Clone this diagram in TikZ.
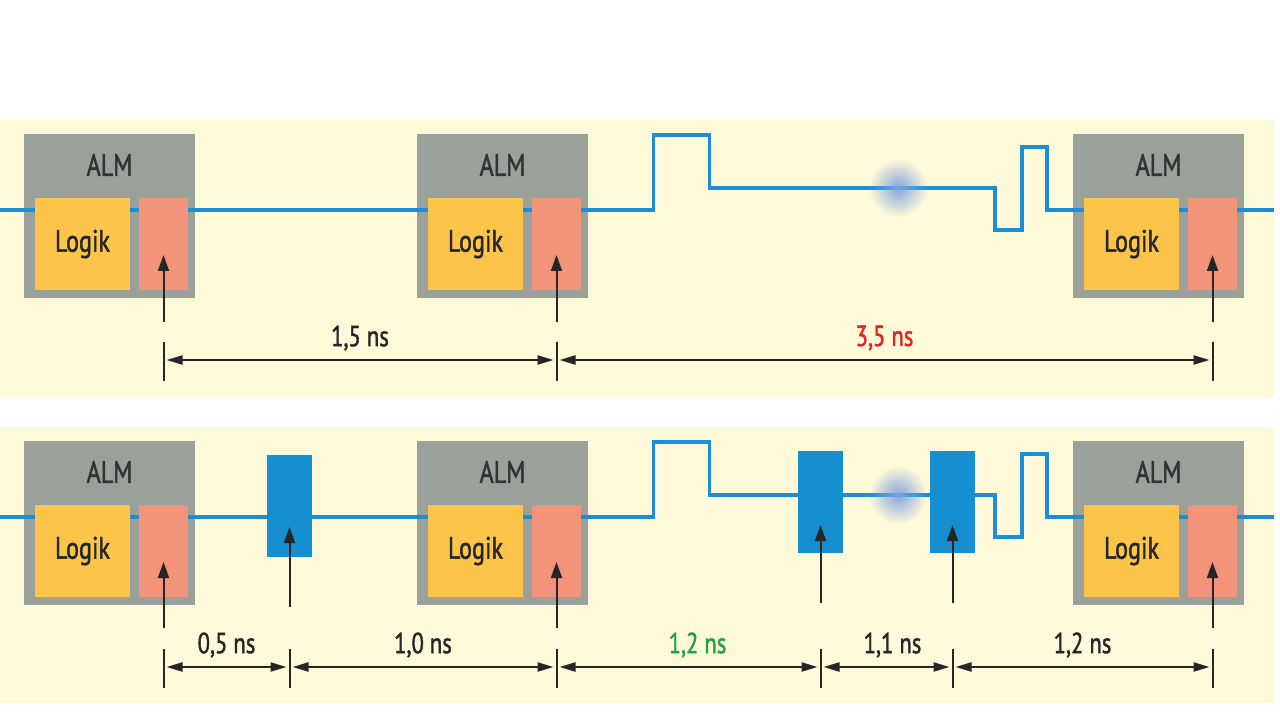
\documentclass[tikz,border=0pt]{standalone}
\usepackage{fontspec}
\newfontfamily\almfont[FakeStretch=0.78,FakeBold=1.4]{PT Sans}
\usetikzlibrary{arrows.meta,positioning,calc,backgrounds,fadings}
\definecolor{band}{HTML}{FEF9D9}
\definecolor{almgray}{HTML}{9AA19B}
\definecolor{logikyellow}{HTML}{FCC54A}
\definecolor{ffred}{HTML}{F2937A}
\definecolor{sigblue}{HTML}{1A8FD8}
\definecolor{regblue}{HTML}{168FD0}
\definecolor{blob}{HTML}{7FA2E0}
\definecolor{labelred}{HTML}{E32219}
\definecolor{labelgreen}{HTML}{1FA23F}
\definecolor{dimcol}{HTML}{262626}
\pgfdeclarelayer{back}
\pgfdeclarelayer{mid}
\pgfsetlayers{back,mid,main}
\tikzfading[name=glow, inner color=transparent!0, outer color=transparent!100]

\tikzset{
  almbox/.style={fill=almgray, minimum width=171, minimum height=164, inner sep=0},
  almtext/.style={text=black!80, font=\almfont\fontsize{31}{34}\selectfont, inner sep=0},
  logik/.style={fill=logikyellow, minimum width=95, minimum height=92, inner sep=0,
    text=black!85, font=\almfont\fontsize{31}{34}\selectfont},
  ffbox/.style={fill=ffred, minimum width=49, minimum height=92, inner sep=0},
  reg/.style={fill=regblue, minimum width=45, minimum height=102, inner sep=0},
  blob/.style={circle, minimum size=58, inner sep=0, fill=blob,
    path fading=glow, fill opacity=0.95},
  sig/.style={draw=sigblue, line width=3.4pt},
  clk/.style={draw=dimcol, line width=2pt, -{Triangle[length=16pt,width=11pt]}},
  tickmark/.style={draw=dimcol, line width=2pt},
  dim/.style={draw=dimcol, line width=2.2pt, shorten <=3pt, shorten >=3pt,
    {Triangle[length=16pt,width=9pt]}-{Triangle[length=16pt,width=9pt]}},
  dimlabel/.style={midway, yshift=22pt, text=black!85,
    font=\almfont\fontsize{29}{32}\selectfont}
}

\begin{document}
\begin{tikzpicture}[x=1pt,y=-1pt]
  \useasboundingbox (0,0) rectangle (1280,719);
  \begin{pgfonlayer}{back}
    \fill[white] (0,0) rectangle (1280,719);
    \fill[band] (0,120) rectangle (1274,397);
    \fill[band] (0,427) rectangle (1274,703);
  \end{pgfonlayer}

  % ALM blocks, two rows of three
  \foreach \r/\dy in {1/0,2/307}{
    \foreach \c/\dx in {1/0,2/393,3/1049}{
      \begin{pgfonlayer}{back}
        \node[almbox] (alm-\r-\c) at (109.5+\dx,216+\dy) {};
      \end{pgfonlayer}
      \node[almtext] (almt-\r-\c) at ($(alm-\r-\c.north)+(0,31)$) {ALM};
      \node[logik] (logik-\r-\c) at ($(alm-\r-\c)+(-27,28)$) {Logik};
      \node[ffbox] (ff-\r-\c) at ($(alm-\r-\c)+(54,28)$) {};
    }
  }

  % extra registers in the lower row
  \node[reg] (reg1) at (289.5,506) {};
  \node[reg] (reg2) at (820.5,502) {};
  \node[reg] (reg3) at (952.5,502) {};

  \node[blob] (glitch1) at (898,188) {};
  \node[blob] (glitch2) at (898,495) {};

  % signal paths
  \begin{pgfonlayer}{mid}
    \coordinate (in1) at (0,210);
    \coordinate (out1) at (1274,210);
    \coordinate (in2) at (0,517);
    \coordinate (out2) at (1274,517);
    \draw[sig] (in1) -- (ff-1-2.east |- in1) -- ++(72,0) -- ++(0,-75) -- ++(56,0)
      -- ++(0,53) -- (glitch1.center) -- ++(97,0) -- ++(0,42) -- ++(27,0)
      -- ++(0,-83) -- ++(25,0) -- ++(0,63) -- (out1);
    \draw[sig] (in2) -- (ff-2-2.east |- in2) -- ++(72,0) -- ++(0,-75) -- ++(56,0)
      -- ++(0,53) -- (glitch2.center) -- ++(97,0) -- ++(0,42) -- ++(27,0)
      -- ++(0,-83) -- ++(25,0) -- ++(0,63) -- (out2);
  \end{pgfonlayer}

  % clock arrows
  \foreach \r/\y in {1/322,2/628}{
    \foreach \c in {1,2,3}{
      \coordinate (clk-\r-\c) at (ff-\r-\c |- 0,\y);
      \draw[clk] (clk-\r-\c) -- ($(ff-\r-\c)+(0,11)$);
    }
  }
  \coordinate (clkr1) at (reg1 |- 0,607);
  \coordinate (clkr2) at (reg2 |- 0,603);
  \coordinate (clkr3) at (reg3 |- 0,603);
  \draw[clk] (clkr1) -- ($(reg1)+(0,21)$);
  \draw[clk] (clkr2) -- ($(reg2)+(0,23)$);
  \draw[clk] (clkr3) -- ($(reg3)+(0,23)$);

  % dimension lines
  \coordinate (dt1) at (ff-1-1 |- 0,360);
  \coordinate (dt2) at (ff-1-2 |- 0,360);
  \coordinate (dt3) at (ff-1-3 |- 0,360);
  \coordinate (db1) at (ff-2-1 |- 0,667);
  \coordinate (db2) at (reg1 |- 0,667);
  \coordinate (db3) at (ff-2-2 |- 0,667);
  \coordinate (db4) at (reg2 |- 0,667);
  \coordinate (db5) at (reg3 |- 0,667);
  \coordinate (db6) at (ff-2-3 |- 0,667);
  \foreach \t in {dt1,dt2,dt3,db1,db2,db3,db4,db5,db6}
    \draw[tickmark] ($(\t)+(0,-18)$) -- ($(\t)+(0,21)$);

  \draw[dim] (dt1) -- (dt2) node[dimlabel] {1,5 ns};
  \draw[dim] (dt2) -- (dt3) node[dimlabel, text=labelred] {3,5 ns};
  \draw[dim] (db1) -- (db2) node[dimlabel] {0,5 ns};
  \draw[dim] (db2) -- (db3) node[dimlabel] {1,0 ns};
  \draw[dim] (db3) -- (db4) node[dimlabel, text=labelgreen, xshift=9pt] {1,2 ns};
  \draw[dim] (db4) -- (db5) node[dimlabel, xshift=6pt] {1,1 ns};
  \draw[dim] (db5) -- (db6) node[dimlabel] {1,2 ns};
\end{tikzpicture}
\end{document}
